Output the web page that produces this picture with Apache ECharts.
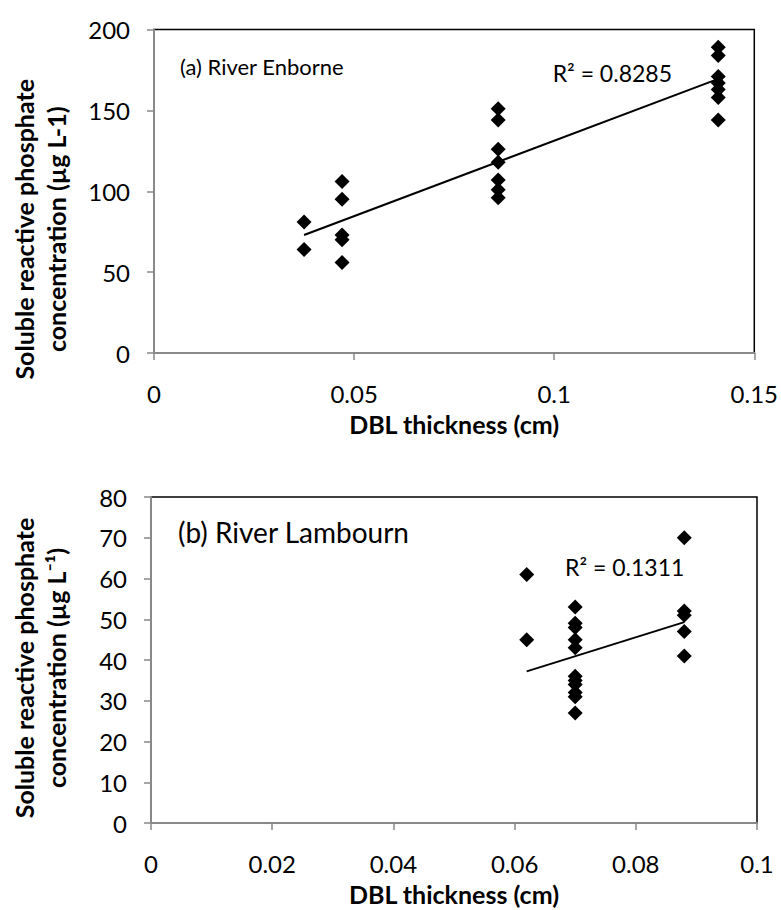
<!DOCTYPE html>
<html>
<head>
<meta charset="utf-8">
<title>SRP vs DBL thickness</title>
<script src="https://cdn.jsdelivr.net/npm/echarts@6/dist/echarts.min.js"></script>
<style>
  html, body { margin: 0; padding: 0; background: #fff; }
  #chart { width: 781px; height: 910px; }
</style>
</head>
<body>
<div id="chart"></div>
<script>
  // (a) River Enborne
  const enborneX = [0.0375, 0.0375,
    0.047, 0.047, 0.047, 0.047, 0.047,
    0.086, 0.086, 0.086, 0.086, 0.086, 0.086, 0.086,
    0.141, 0.141, 0.141, 0.141, 0.141, 0.141, 0.141]
  const enborneY = [81, 64,
    106, 95, 73, 70, 56,
    151, 144, 126, 118, 107, 101, 96,
    189, 184, 171, 167, 163, 158, 144]
  // trendline ends as drawn in the figure
  const enborneTrend = [[0.0375, 73], [0.141, 169.5]]

  // (b) River Lambourn
  const lambournX = [0.062, 0.062,
    0.07, 0.07, 0.07, 0.07, 0.07, 0.07, 0.07, 0.07, 0.07, 0.07, 0.07,
    0.088, 0.088, 0.088, 0.088, 0.088]
  const lambournY = [61, 45,
    53, 49, 48, 45, 43, 36, 35, 34, 32, 31, 27,
    70, 52, 51, 47, 41]
  const lambournTrend = [[0.062, 37.2], [0.088, 49.3]]

  const yTitleA = 'Soluble reactive phosphate\nconcentration (µg L-1)'
  const yTitleB = 'Soluble reactive phosphate\nconcentration (µg L⁻¹)'
  const xTitle = 'DBL thickness (cm)'

  const font = 'Lato'
  const axisGrey = '#898989'

  const zip = (xs, ys) => xs.map((x, i) => [x, ys[i]])
  const fmt = v => String(+v.toFixed(3))

  function xAxisOf(gridIndex, max, interval) {
    return {
      gridIndex, type: 'value', min: 0, max, interval,
      name: xTitle, nameLocation: 'middle', nameGap: 58,
      nameTextStyle: { fontFamily: font, fontSize: 25, fontWeight: 'bold', color: '#000' },
      axisLine: { onZero: false, lineStyle: { color: axisGrey, width: 2 } },
      axisTick: { show: true, inside: false, length: 7, lineStyle: { color: axisGrey, width: 1.5 } },
      axisLabel: { fontFamily: font, fontSize: 24, color: '#000', margin: 28, formatter: fmt },
      splitLine: { show: false }
    }
  }

  // padding on the right of the rotated name pushes it down the axis
  function yAxisOf(gridIndex, max, interval, name, nameGap, padding) {
    return {
      gridIndex, type: 'value', min: 0, max, interval,
      name, nameLocation: 'middle', nameGap,
      nameTextStyle: {
        fontFamily: font, fontSize: 25, fontWeight: 'bold', color: '#000',
        lineHeight: 32, align: 'center', padding
      },
      axisLine: { show: true, onZero: false, lineStyle: { color: axisGrey, width: 2 } },
      axisTick: { show: true, inside: false, length: 7, lineStyle: { color: axisGrey, width: 1.5 } },
      axisLabel: { fontFamily: font, fontSize: 24, color: '#000', margin: 24 },
      splitLine: { show: false }
    }
  }

  function points(i, data) {
    return {
      type: 'scatter', xAxisIndex: i, yAxisIndex: i,
      symbol: 'diamond', symbolSize: 15,
      itemStyle: { color: '#000', opacity: 1 },
      data
    }
  }

  function trend(i, data) {
    return {
      type: 'line', xAxisIndex: i, yAxisIndex: i,
      showSymbol: false, silent: true,
      lineStyle: { color: '#000', width: 2 },
      data
    }
  }

  const label = (text, size) => ({ text, fontFamily: font, fontSize: size, fill: '#000' })

  const chart = echarts.init(document.getElementById('chart'), null, { renderer: 'svg' })
  chart.setOption({
    animation: false,
    backgroundColor: '#fff',
    grid: [
      { left: 153, right: 26, top: 24, height: 329, show: true, borderColor: '#000', borderWidth: 1.5 },
      { left: 150, right: 24, top: 497, height: 326, show: true, borderColor: '#000', borderWidth: 1.5 }
    ],
    xAxis: [xAxisOf(0, 0.15, 0.05), xAxisOf(1, 0.1, 0.02)],
    yAxis: [
      yAxisOf(0, 200, 50, yTitleA, 82, [0, 76, 0, 0]),
      yAxisOf(1, 80, 10, yTitleB, 79, [0, 16, 0, 0])
    ],
    series: [
      trend(0, enborneTrend),
      points(0, zip(enborneX, enborneY)),
      trend(1, lambournTrend),
      points(1, zip(lambournX, lambournY))
    ],
    graphic: [
      { type: 'text', left: 180, top: 55, style: label('(a) River Enborne', 22) },
      { type: 'text', right: 109, top: 61, style: label('R² = 0.8285', 23) },
      { type: 'text', left: 178, top: 518, style: label('(b) River Lambourn', 28) },
      { type: 'text', left: 565, top: 555, style: label('R² = 0.1311', 23) }
    ]
  })
</script>
</body>
</html>
